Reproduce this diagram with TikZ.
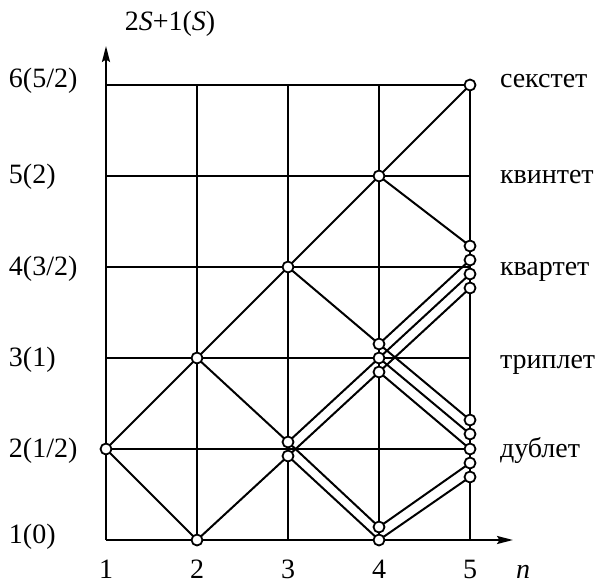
\documentclass[tikz,border=0pt]{standalone}
\usepackage{fontspec}
\setmainfont{Liberation Serif}
\usetikzlibrary{arrows.meta}
\begin{document}
\begin{tikzpicture}[x=1pt,y=-1pt,line width=2pt,line join=round,
  dot/.style={circle,draw,fill=white,inner sep=0pt,minimum size=11pt,line width=1.8pt},
  lbl/.style={font=\fontsize{28}{30}\selectfont,inner sep=0pt},
  axarrow/.style={-{Stealth[length=16pt,width=8pt,inset=2.5pt]}}]
\useasboundingbox (0,0) rectangle (600,583);
% grid coordinates
\foreach \i in {1,...,5}{
  \foreach \j in {1,...,6}{
    \coordinate (g\i\j) at ({106+91*(\i-1)},{540-91*(\j-1)});
  }
}
\coordinate (ytip) at (106,46);
\coordinate (xtip) at (513,540);
% grid lines
\foreach \j in {2,...,6}{\draw (g1\j) -- (g5\j);}
\foreach \i in {2,...,5}{\draw (g\i1) -- (g\i6);}
\draw[axarrow] (g11) -- (ytip);
\draw[axarrow] (g11) -- (xtip);
% state points
\coordinate (a3u) at (288,442);
\coordinate (a3l) at (288,456);
\coordinate (b1) at (379,344);
\coordinate (b2) at (379,358);
\coordinate (b3) at (379,372);
\coordinate (c1) at (379,527);
\coordinate (c2) at (379,540);
\coordinate (d1) at (470,246);
\coordinate (d2) at (470,260);
\coordinate (d3) at (470,274);
\coordinate (d4) at (470,288);
\coordinate (e1) at (470,420);
\coordinate (e2) at (470,434);
\coordinate (e3) at (470,449);
\coordinate (e4) at (470,463);
\coordinate (e5) at (470,477);
% branching lines
\draw (g12) -- (g23);
\draw (g12) -- (g21);
\draw (g23) -- (g34);
\draw (g23) -- (a3u);
\draw (g21) -- (a3l);
\draw (g34) -- (g45);
\draw (g34) -- (b1);
\draw (a3u) -- (b2);
\draw (a3l) -- (b3);
\draw (a3u) -- (c1);
\draw (a3l) -- (c2);
\draw (g45) -- (g56);
\draw (g45) -- (d1);
\draw (b1) -- (d2);
\draw (b2) -- (d3);
\draw (b3) -- (d4);
\draw (b1) -- (e1);
\draw (b2) -- (e2);
\draw (b3) -- (e3);
\draw (c1) -- (e4);
\draw (c2) -- (e5);
% circles
\foreach \p in {g12,g21,g23,g34,g45,g56,a3u,a3l,b1,b2,b3,c1,c2,d1,d2,d3,d4,e1,e2,e3,e4,e5}{
  \node[dot] (n\p) at (\p) {};
}
% axis labels
\node[lbl] (ylab) at (170,24) {2\textit{S}+1(\textit{S})};
\node[lbl,anchor=base west] (l6) at (8,88) {6(5/2)};
\node[lbl,anchor=base west] (l5) at (8,184) {5(2)};
\node[lbl,anchor=base west] (l4) at (8,275) {4(3/2)};
\node[lbl,anchor=base west] (l3) at (8,366) {3(1)};
\node[lbl,anchor=base west] (l2) at (8,457) {2(1/2)};
\node[lbl,anchor=base west] (l1) at (8,543) {1(0)};
\node[lbl,anchor=base] (x1) at (106,578) {1};
\node[lbl,anchor=base] (x2) at (197,578) {2};
\node[lbl,anchor=base] (x3) at (288,578) {3};
\node[lbl,anchor=base] (x4) at (379,578) {4};
\node[lbl,anchor=base] (x5) at (470,578) {5};
\node[lbl,anchor=base west] (xn) at (515,578) {\textit{n}};
% multiplicity names
\node[lbl,anchor=base west] (r6) at (499,88) {секстет};
\node[lbl,anchor=base west] (r5) at (499,184) {квинтет};
\node[lbl,anchor=base west] (r4) at (499,275) {квартет};
\node[lbl,anchor=base west] (r3) at (499,368) {триплет};
\node[lbl,anchor=base west] (r2) at (499,457) {дублет};
\end{tikzpicture}
\end{document}
